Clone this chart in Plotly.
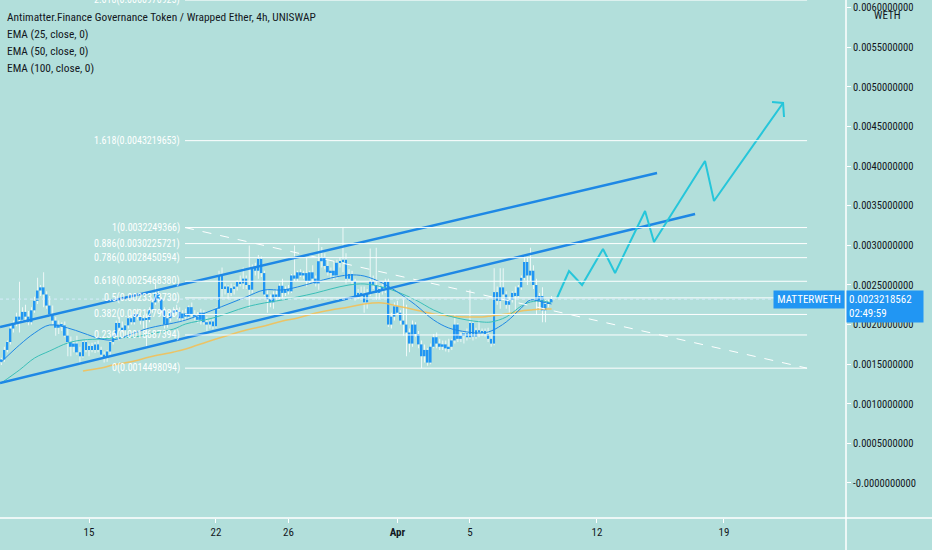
import pandas as pd
import plotly.graph_objects as go

# MATTER / WETH, 4h candles, first candle 2021-03-10 04:00
first_candle = "2021-03-10 04:00"
n_candles = 183

open_ = [
    0.00153, 0.00156, 0.00168, 0.00178, 0.00195, 0.00202, 0.00210, 0.00206, 0.00216, 0.00210,
    0.00203, 0.00218, 0.00230, 0.00243, 0.00247, 0.00238, 0.00224, 0.00213, 0.00205, 0.00196,
    0.00200, 0.00199, 0.00186, 0.00178, 0.00172, 0.00176, 0.00165, 0.00160, 0.00178, 0.00168,
    0.00173, 0.00168, 0.00175, 0.00168, 0.00162, 0.00158, 0.00166, 0.00178, 0.00186, 0.00202,
    0.00196, 0.00193, 0.00199, 0.00208, 0.00203, 0.00213, 0.00210, 0.00205, 0.00208, 0.00206,
    0.00219, 0.00228, 0.00240, 0.00232, 0.00218, 0.00200, 0.00208, 0.00215, 0.00218, 0.00216,
    0.00208, 0.00214, 0.00210, 0.00222, 0.00213, 0.00210, 0.00206, 0.00215, 0.00203, 0.00200,
    0.00204, 0.00198, 0.00220, 0.00262, 0.00245, 0.00248, 0.00240, 0.00246, 0.00248, 0.00254,
    0.00252, 0.00258, 0.00250, 0.00244, 0.00272, 0.00268, 0.00283, 0.00265, 0.00238, 0.00232,
    0.00228, 0.00238, 0.00235, 0.00249, 0.00240, 0.00245, 0.00242, 0.00262, 0.00258, 0.00266,
    0.00262, 0.00265, 0.00255, 0.00266, 0.00258, 0.00252, 0.00280, 0.00285, 0.00274, 0.00266,
    0.00268, 0.00262, 0.00278, 0.00280, 0.00282, 0.00258, 0.00264, 0.00255, 0.00235, 0.00240,
    0.00238, 0.00228, 0.00240, 0.00255, 0.00250, 0.00240, 0.00245, 0.00246, 0.00254, 0.00200,
    0.00210, 0.00223, 0.00215, 0.00205, 0.00200, 0.00190, 0.00176, 0.00200, 0.00188, 0.00175,
    0.00160, 0.00168, 0.00152, 0.00172, 0.00184, 0.00176, 0.00172, 0.00175, 0.00170, 0.00172,
    0.00180, 0.00200, 0.00182, 0.00186, 0.00189, 0.00184, 0.00202, 0.00185, 0.00193, 0.00190,
    0.00192, 0.00188, 0.00182, 0.00176, 0.00241, 0.00230, 0.00247, 0.00238, 0.00225, 0.00231,
    0.00240, 0.00236, 0.00247, 0.00259, 0.00279, 0.00262, 0.00268, 0.00250, 0.00230, 0.00236,
    0.00218, 0.00226, 0.00228,
]
high = [
    0.00158, 0.00172, 0.00180, 0.00198, 0.00205, 0.00215, 0.00254, 0.00222, 0.00225, 0.00217,
    0.00222, 0.00235, 0.00259, 0.00250, 0.00266, 0.00242, 0.00236, 0.00224, 0.00210, 0.00205,
    0.00203, 0.00204, 0.00196, 0.00185, 0.00180, 0.00186, 0.00172, 0.00180, 0.00182, 0.00176,
    0.00177, 0.00178, 0.00180, 0.00172, 0.00166, 0.00168, 0.00180, 0.00188, 0.00205, 0.00210,
    0.00204, 0.00200, 0.00210, 0.00212, 0.00215, 0.00220, 0.00214, 0.00212, 0.00214, 0.00222,
    0.00232, 0.00252, 0.00245, 0.00235, 0.00222, 0.00212, 0.00218, 0.00222, 0.00225, 0.00222,
    0.00218, 0.00220, 0.00224, 0.00228, 0.00218, 0.00216, 0.00220, 0.00218, 0.00210, 0.00206,
    0.00208, 0.00222, 0.00268, 0.00272, 0.00252, 0.00250, 0.00252, 0.00250, 0.00256, 0.00262,
    0.00272, 0.00262, 0.00300, 0.00276, 0.00278, 0.00288, 0.00286, 0.00268, 0.00245, 0.00238,
    0.00242, 0.00245, 0.00252, 0.00258, 0.00248, 0.00250, 0.00264, 0.00300, 0.00268, 0.00270,
    0.00268, 0.00285, 0.00268, 0.00275, 0.00262, 0.00309, 0.00298, 0.00290, 0.00282, 0.00272,
    0.00280, 0.00282, 0.00285, 0.00323, 0.00290, 0.00270, 0.00268, 0.00258, 0.00245, 0.00248,
    0.00248, 0.00245, 0.00296, 0.00262, 0.00297, 0.00250, 0.00252, 0.00258, 0.00258, 0.00215,
    0.00228, 0.00230, 0.00218, 0.00233, 0.00225, 0.00195, 0.00205, 0.00203, 0.00192, 0.00180,
    0.00175, 0.00170, 0.00176, 0.00188, 0.00190, 0.00182, 0.00180, 0.00180, 0.00182, 0.00182,
    0.00212, 0.00202, 0.00190, 0.00192, 0.00195, 0.00244, 0.00205, 0.00196, 0.00205, 0.00195,
    0.00195, 0.00196, 0.00186, 0.00271, 0.00248, 0.00271, 0.00271, 0.00242, 0.00235, 0.00242,
    0.00248, 0.00250, 0.00262, 0.00288, 0.00284, 0.00297, 0.00275, 0.00258, 0.00240, 0.00247,
    0.00231, 0.00232, 0.00236,
]
low = [
    0.00149, 0.00153, 0.00165, 0.00175, 0.00190, 0.00198, 0.00190, 0.00203, 0.00205, 0.00199,
    0.00200, 0.00215, 0.00226, 0.00236, 0.00222, 0.00220, 0.00210, 0.00200, 0.00186, 0.00188,
    0.00192, 0.00184, 0.00160, 0.00160, 0.00165, 0.00162, 0.00150, 0.00158, 0.00165, 0.00160,
    0.00165, 0.00164, 0.00165, 0.00158, 0.00152, 0.00153, 0.00162, 0.00175, 0.00183, 0.00192,
    0.00190, 0.00185, 0.00195, 0.00200, 0.00200, 0.00206, 0.00200, 0.00195, 0.00172, 0.00203,
    0.00215, 0.00225, 0.00228, 0.00215, 0.00195, 0.00196, 0.00204, 0.00210, 0.00212, 0.00205,
    0.00204, 0.00206, 0.00208, 0.00210, 0.00205, 0.00202, 0.00200, 0.00200, 0.00192, 0.00195,
    0.00194, 0.00196, 0.00218, 0.00235, 0.00238, 0.00232, 0.00236, 0.00238, 0.00243, 0.00248,
    0.00245, 0.00245, 0.00221, 0.00240, 0.00262, 0.00258, 0.00260, 0.00236, 0.00215, 0.00222,
    0.00220, 0.00230, 0.00232, 0.00234, 0.00236, 0.00238, 0.00240, 0.00255, 0.00255, 0.00260,
    0.00258, 0.00248, 0.00252, 0.00252, 0.00248, 0.00244, 0.00272, 0.00270, 0.00262, 0.00258,
    0.00256, 0.00258, 0.00272, 0.00266, 0.00252, 0.00254, 0.00250, 0.00230, 0.00232, 0.00235,
    0.00215, 0.00220, 0.00236, 0.00245, 0.00231, 0.00232, 0.00238, 0.00240, 0.00197, 0.00195,
    0.00205, 0.00212, 0.00200, 0.00186, 0.00160, 0.00165, 0.00172, 0.00185, 0.00170, 0.00145,
    0.00152, 0.00148, 0.00150, 0.00170, 0.00170, 0.00168, 0.00168, 0.00166, 0.00165, 0.00168,
    0.00176, 0.00178, 0.00178, 0.00176, 0.00180, 0.00182, 0.00180, 0.00182, 0.00184, 0.00186,
    0.00185, 0.00178, 0.00172, 0.00174, 0.00225, 0.00220, 0.00235, 0.00220, 0.00215, 0.00228,
    0.00212, 0.00234, 0.00244, 0.00256, 0.00250, 0.00255, 0.00245, 0.00212, 0.00218, 0.00203,
    0.00203, 0.00222, 0.00226,
]
close = [
    0.00156, 0.00168, 0.00178, 0.00195, 0.00202, 0.00210, 0.00206, 0.00216, 0.00210, 0.00203,
    0.00218, 0.00230, 0.00243, 0.00247, 0.00238, 0.00224, 0.00213, 0.00205, 0.00196, 0.00200,
    0.00199, 0.00186, 0.00178, 0.00172, 0.00176, 0.00165, 0.00160, 0.00178, 0.00168, 0.00173,
    0.00168, 0.00175, 0.00168, 0.00162, 0.00158, 0.00166, 0.00178, 0.00186, 0.00202, 0.00196,
    0.00193, 0.00199, 0.00208, 0.00203, 0.00213, 0.00210, 0.00205, 0.00208, 0.00206, 0.00219,
    0.00228, 0.00240, 0.00232, 0.00218, 0.00200, 0.00208, 0.00215, 0.00218, 0.00216, 0.00208,
    0.00214, 0.00210, 0.00222, 0.00213, 0.00210, 0.00206, 0.00215, 0.00203, 0.00200, 0.00204,
    0.00198, 0.00220, 0.00262, 0.00245, 0.00248, 0.00240, 0.00246, 0.00248, 0.00254, 0.00252,
    0.00258, 0.00250, 0.00244, 0.00272, 0.00268, 0.00283, 0.00265, 0.00238, 0.00232, 0.00228,
    0.00238, 0.00235, 0.00249, 0.00240, 0.00245, 0.00242, 0.00262, 0.00258, 0.00266, 0.00262,
    0.00265, 0.00255, 0.00266, 0.00258, 0.00252, 0.00280, 0.00285, 0.00274, 0.00266, 0.00268,
    0.00262, 0.00278, 0.00280, 0.00282, 0.00258, 0.00264, 0.00255, 0.00235, 0.00240, 0.00238,
    0.00228, 0.00240, 0.00255, 0.00250, 0.00240, 0.00245, 0.00246, 0.00254, 0.00200, 0.00210,
    0.00223, 0.00215, 0.00205, 0.00200, 0.00190, 0.00176, 0.00200, 0.00188, 0.00175, 0.00160,
    0.00168, 0.00152, 0.00172, 0.00184, 0.00176, 0.00172, 0.00175, 0.00170, 0.00172, 0.00180,
    0.00200, 0.00182, 0.00186, 0.00189, 0.00184, 0.00202, 0.00185, 0.00193, 0.00190, 0.00192,
    0.00188, 0.00182, 0.00176, 0.00241, 0.00230, 0.00247, 0.00238, 0.00225, 0.00231, 0.00240,
    0.00236, 0.00247, 0.00259, 0.00279, 0.00262, 0.00268, 0.00250, 0.00230, 0.00236, 0.00218,
    0.00226, 0.00228, 0.0023218562,
]

# EMA values at these candle indices
ema_idx = [0, 6, 11, 16, 22, 27, 33, 37, 44, 49, 57, 61, 70, 81, 87, 93, 98, 104, 109,
           115, 120, 126, 131, 137, 143, 148, 154, 159, 162, 167, 172, 175, 179, 182]
ema25 = [0.001528, 0.001742, 0.001894, 0.001995, 0.001957, 0.001894, 0.001818, 0.001806,
         0.001894, 0.001957, 0.002020, 0.002058, 0.002184, 0.002349, 0.002437, 0.002437,
         0.002475, 0.002538, 0.002588, 0.002626, 0.002613, 0.002525, 0.002412, 0.002248,
         0.002058, 0.001957, 0.001907, 0.001894, 0.001919, 0.002033, 0.002210, 0.002311,
         0.002285, 0.002260]
ema50 = [0.001263, 0.001427, 0.001578, 0.001667, 0.001768, 0.001806, 0.001818, 0.001831,
         0.001844, 0.001881, 0.001944, 0.002008, 0.002083, 0.002222, 0.002273, 0.002311,
         0.002349, 0.002399, 0.002450, 0.002500, 0.002513, 0.002475, 0.002412, 0.002311,
         0.002184, 0.002109, 0.002058, 0.002033, 0.002033, 0.002096, 0.002235, 0.002285,
         0.002298, 0.002273]
ema100_idx = [27, 33, 37, 44, 49, 57, 61, 70, 81, 87, 93, 98, 104, 109, 115, 120, 126,
              131, 137, 143, 148, 154, 159, 162, 167, 172, 175, 179, 182]
ema100 = [0.001414, 0.001452, 0.001490, 0.001540, 0.001591, 0.001654, 0.001692, 0.001806,
          0.001932, 0.001982, 0.002045, 0.002083, 0.002146, 0.002184, 0.002222, 0.002260,
          0.002273, 0.002235, 0.002184, 0.002134, 0.002109, 0.002096, 0.002096, 0.002109,
          0.002134, 0.002172, 0.002184, 0.002197, 0.002197]

# Fibonacci retracement drawing
fib_start = "2021-03-20 07:00"
fib_end = "2021-04-23 14:00"
fib_ratios = ["0", "0.236", "0.382", "0.5", "0.618", "0.786", "0.886", "1", "1.618", "2.618"]
fib_prices = [0.0014498094, 0.0018687394, 0.0021279080, 0.0023373730, 0.0025468380,
              0.0028450594, 0.0030225721, 0.0032249366, 0.0043219653, 0.0060970925]

# channel lines
chan_upper_t = ["2021-03-10 02:15", "2021-04-15 07:30"]
chan_upper_p = [0.0019697, 0.0039141]
chan_lower_t = ["2021-03-10 02:15", "2021-04-17 09:50"]
chan_lower_p = [0.0012626, 0.0033965]

# projected path
proj_t = ["2021-04-09 19:10", "2021-04-10 11:00", "2021-04-11 04:20", "2021-04-12 08:00",
          "2021-04-13 00:00", "2021-04-14 15:40", "2021-04-15 03:30", "2021-04-17 23:00",
          "2021-04-18 10:50", "2021-04-22 06:15"]
proj_p = [0.0023358, 0.0026767, 0.0025000, 0.0029545, 0.0026515, 0.0034343, 0.0030429,
          0.0040657, 0.0035606, 0.0047980]
head_t = ["2021-04-21 15:40", "2021-04-22 06:15", "2021-04-22 07:30"]
head_p = [0.0048106, 0.0047980, 0.0046212]

x_tickvals = ["2021-03-15", "2021-03-22", "2021-03-26", "2021-04-01", "2021-04-05",
              "2021-04-12", "2021-04-19"]
x_ticktext = ["15", "22", "26", "<b>Apr</b>", "5", "12", "19"]
y_tickvals = [0, 0.0005, 0.001, 0.0015, 0.002, 0.0025, 0.003, 0.0035, 0.004, 0.0045,
              0.005, 0.0055, 0.006]
y_ticktext = ["-0.0000000000", "0.0005000000", "0.0010000000", "0.0015000000",
              "0.0020000000", "0.0025000000", "0.0030000000", "0.0035000000",
              "0.0040000000", "0.0045000000", "0.0050000000", "0.0055000000",
              "0.0060000000"]

last_price = close[-1]
countdown = "02:49:59"

BG = "#b2dfdb"
BLUE = "#2196f3"
FONT = "Liberation Sans Narrow, Roboto Condensed, Liberation Sans, sans-serif"
DARK = "#131722"
FOUR_H = 4 * 3600 * 1000

times = pd.date_range(first_candle, periods=n_candles, freq="4h")

wick_len = [h - l for h, l in zip(high, low)]
body_base = [min(o, c) for o, c in zip(open_, close)]
body_len = [max(abs(c - o), 0.000012) for o, c in zip(open_, close)]

fig = go.Figure()

# wicks and bodies as overlaid bars, so the body sits on top of its wick
fig.add_trace(go.Bar(x=times, y=wick_len, base=low, width=FOUR_H * 0.3,
                     marker=dict(color="rgba(255,255,255,0.85)", line=dict(width=0)),
                     hoverinfo="skip", showlegend=False))
fig.add_trace(go.Bar(x=times, y=body_len, base=body_base, width=FOUR_H * 0.62,
                     marker=dict(color=BLUE, line=dict(width=0)),
                     hoverinfo="skip", showlegend=False))

fig.add_trace(go.Scatter(x=times[ema100_idx], y=ema100, mode="lines",
                         line=dict(color="rgba(246,190,80,0.85)", width=1.5),
                         line_shape="spline", showlegend=False, hoverinfo="skip"))
fig.add_trace(go.Scatter(x=times[ema_idx], y=ema50, mode="lines",
                         line=dict(color="#3bbfb8", width=1), line_shape="spline",
                         showlegend=False, hoverinfo="skip"))
fig.add_trace(go.Scatter(x=times[ema_idx], y=ema25, mode="lines",
                         line=dict(color="#1e88e5", width=1), line_shape="spline",
                         showlegend=False, hoverinfo="skip"))

# fib levels
for r, p in zip(fib_ratios, fib_prices):
    fig.add_shape(type="line", xref="x", yref="y", x0=fib_start, x1=fib_end, y0=p, y1=p,
                  line=dict(color="white", width=1))
    fig.add_annotation(x=fib_start, y=p, xref="x", yref="y", xanchor="right",
                       xshift=-3, yanchor="middle", showarrow=False,
                       text="%s(%.10f)" % (r, p),
                       font=dict(family=FONT, size=10, color="white"))
fig.add_trace(go.Scatter(x=[fib_start, fib_end], y=[fib_prices[7], fib_prices[0]],
                         mode="lines", line=dict(color="white", width=1, dash="dash"),
                         showlegend=False, hoverinfo="skip"))

for tt, pp in [(chan_upper_t, chan_upper_p), (chan_lower_t, chan_lower_p)]:
    fig.add_trace(go.Scatter(x=tt, y=pp, mode="lines",
                             line=dict(color="#1e88e5", width=2.5),
                             showlegend=False, hoverinfo="skip"))

fig.add_trace(go.Scatter(x=proj_t, y=proj_p, mode="lines",
                         line=dict(color="#26c6da", width=2),
                         showlegend=False, hoverinfo="skip"))
fig.add_trace(go.Scatter(x=head_t, y=head_p, mode="lines",
                         line=dict(color="#26c6da", width=2),
                         showlegend=False, hoverinfo="skip"))

# last price line
fig.add_shape(type="line", xref="paper", yref="y", x0=0, x1=1, y0=last_price, y1=last_price,
              line=dict(color="#d6ecfb", width=1, dash="dot"))

# axis border lines
fig.add_shape(type="line", xref="paper", yref="paper", x0=0, x1=1.11, y0=0, y1=0,
              line=dict(color="white", width=1.5))
fig.add_shape(type="line", xref="paper", yref="paper", x0=1, x1=1, y0=-0.07, y1=1,
              line=dict(color="white", width=1.5))

titles = ["Antimatter.Finance Governance Token / Wrapped Ether, 4h, UNISWAP",
          "EMA (25, close, 0)", "EMA (50, close, 0)", "EMA (100, close, 0)"]
for k, txt in enumerate(titles):
    fig.add_annotation(x=0.006, y=1 - (17 + 17 * k) / 518, xref="paper", yref="paper",
                       xanchor="left", yanchor="middle", showarrow=False, text=txt,
                       font=dict(family=FONT, size=11.4, color=DARK))

fig.add_annotation(x=1.0496, y=1 - 15 / 518, xref="paper", yref="paper", showarrow=False,
                   xanchor="center", yanchor="middle",
                   text="WETH", font=dict(family=FONT, size=11, color=DARK))

fig.add_annotation(x=1, y=last_price, xref="paper", yref="y", xanchor="left", yanchor="top",
                   yshift=9, showarrow=False, align="left", bgcolor=BLUE, borderpad=2,
                   width=72, text="%.10f<br>%s" % (last_price, countdown),
                   font=dict(family=FONT, size=11, color="white"))
fig.add_annotation(x=0.999, y=last_price, xref="paper", yref="y", xanchor="right",
                   yanchor="top", yshift=9, showarrow=False, bgcolor=BLUE, borderpad=2,
                   width=66, text="MATTERWETH",
                   font=dict(family=FONT, size=11, color="white"))

fig.update_layout(
    width=932, height=550,
    paper_bgcolor=BG, plot_bgcolor=BG,
    margin=dict(l=0, r=86, t=0, b=32),
    showlegend=False, barmode="overlay",
    font=dict(family=FONT, size=11, color=DARK),
    xaxis=dict(type="date", range=["2021-03-10 02:15", "2021-04-25 17:30"],
               showgrid=False, zeroline=False,
               tickvals=x_tickvals, ticktext=x_ticktext, ticks="outside", ticklen=4,
               tickcolor="white", tickfont=dict(family=FONT, size=11, color=DARK)),
    yaxis=dict(side="right", range=[-0.000442, 0.006098], showgrid=False, zeroline=False,
               tickvals=y_tickvals, ticktext=y_ticktext, ticks="outside", ticklen=4,
               tickcolor="white", tickfont=dict(family=FONT, size=10.6, color=DARK)),
)

fig.write_html("out.html", config={"displayModeBar": False},
               post_script="document.body.style.margin='0';"
               "document.body.style.background='%s';" % BG)
